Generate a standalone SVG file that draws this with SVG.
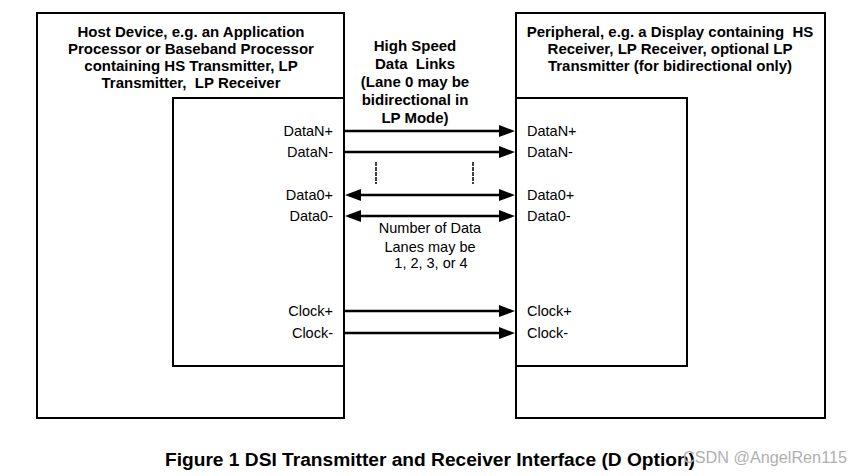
<svg xmlns="http://www.w3.org/2000/svg" width="859" height="476" viewBox="0 0 859 476">
<style>
.box{fill:none;stroke:#000;stroke-width:2}
.t{font-family:"Liberation Sans",Arial,sans-serif;font-size:15px;font-weight:bold;fill:#000;text-anchor:middle;white-space:pre}
.l{font-family:"Liberation Sans",Arial,sans-serif;font-size:14.5px;fill:#000}
.r{text-anchor:end}
.m{text-anchor:middle}
.w{stroke:#000;stroke-width:2.5;fill:none}
.d{stroke:#000;stroke-width:1.5;stroke-dasharray:4 1}
</style>
<defs>
<marker id="ah" viewBox="0 0 16 12" refX="12" refY="6" markerWidth="16" markerHeight="12" markerUnits="userSpaceOnUse" orient="auto-start-reverse">
<path d="M0,0 L16,6 L0,12 z" fill="#000"/>
</marker>
</defs>
<rect width="859" height="476" fill="#fff"/>
<g id="host">
<rect class="box" x="37" y="13" width="307" height="405"/>
<rect class="box" x="173" y="98" width="171" height="268"/>
<text class="t" x="191" y="37">Host Device, e.g. an Application</text>
<text class="t" x="191" y="54">Processor or Baseband Processor</text>
<text class="t" x="191" y="71">containing HS Transmitter, LP</text>
<text class="t" x="191" y="88" xml:space="preserve">Transmitter,  LP Receiver</text>
<text class="l r" x="333" y="136">DataN+</text>
<text class="l r" x="333" y="157">DataN-</text>
<text class="l r" x="333" y="200">Data0+</text>
<text class="l r" x="333" y="221">Data0-</text>
<text class="l r" x="333" y="316">Clock+</text>
<text class="l r" x="333" y="338">Clock-</text>
</g>
<g id="peripheral">
<rect class="box" x="516" y="13" width="309" height="405"/>
<rect class="box" x="516" y="98" width="171" height="268"/>
<text class="t" x="670" y="37" xml:space="preserve">Peripheral, e.g. a Display containing  HS</text>
<text class="t" x="670" y="54">Receiver, LP Receiver, optional LP</text>
<text class="t" x="670" y="71">Transmitter (for bidirectional only)</text>
<text class="l" x="527" y="136">DataN+</text>
<text class="l" x="527" y="157">DataN-</text>
<text class="l" x="527" y="200">Data0+</text>
<text class="l" x="527" y="221">Data0-</text>
<text class="l" x="527" y="316">Clock+</text>
<text class="l" x="527" y="338">Clock-</text>
</g>
<g id="links-label">
<text class="t" x="415" y="51">High Speed</text>
<text class="t" x="415" y="69" xml:space="preserve">Data  Links</text>
<text class="t" x="415" y="87">(Lane 0 may be</text>
<text class="t" x="415" y="105">bidirectional in</text>
<text class="t" x="415" y="123">LP Mode)</text>
<text class="l m" x="430" y="233">Number of Data</text>
<text class="l m" x="430" y="252">Lanes may be</text>
<text class="l m" x="431" y="268">1, 2, 3, or 4</text>
</g>
<g id="connectors">
<line class="w" x1="344" y1="131" x2="511" y2="131" marker-end="url(#ah)"/>
<line class="w" x1="344" y1="152" x2="511" y2="152" marker-end="url(#ah)"/>
<line class="w" x1="349" y1="195" x2="511" y2="195" marker-start="url(#ah)" marker-end="url(#ah)"/>
<line class="w" x1="349" y1="216" x2="511" y2="216" marker-start="url(#ah)" marker-end="url(#ah)"/>
<line class="w" x1="344" y1="311" x2="511" y2="311" marker-end="url(#ah)"/>
<line class="w" x1="344" y1="333" x2="511" y2="333" stroke-width="2" marker-end="url(#ah)"/>
<line class="d" x1="376" y1="162" x2="376" y2="184"/>
<line class="d" x1="473" y1="162" x2="473" y2="184"/>
</g>
<text x="165" y="466" font-family="'Liberation Sans',Arial,sans-serif" font-size="18" font-weight="bold" textLength="530" lengthAdjust="spacingAndGlyphs">Figure 1 DSI Transmitter and Receiver Interface (D Option)</text>
<text x="683" y="463" font-family="'Liberation Sans',Arial,sans-serif" font-size="16" fill="#b0b0b0" textLength="164" lengthAdjust="spacingAndGlyphs">CSDN @AngelRen115</text>
</svg>
